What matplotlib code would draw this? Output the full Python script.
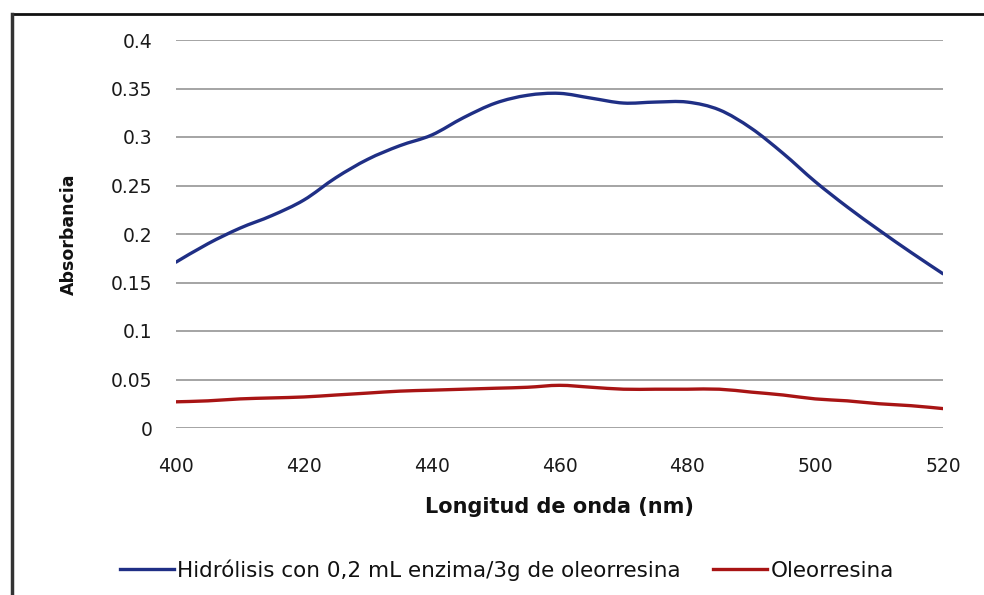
import matplotlib.pyplot as plt
from matplotlib.lines import Line2D
from matplotlib.patches import PathPatch
from matplotlib.path import Path
from matplotlib.ticker import FuncFormatter

# Absorbance spectra, 400-520 nm
wavelength = [400, 405, 410, 415, 420, 425, 430, 435, 440, 445, 450, 455, 460,
              465, 470, 475, 480, 485, 490, 495, 500, 505, 510, 515, 520]
hidrolisis = [0.171, 0.190, 0.206, 0.219, 0.235, 0.258, 0.277, 0.291, 0.302,
              0.320, 0.335, 0.343, 0.345, 0.340, 0.335, 0.336, 0.336, 0.328,
              0.309, 0.283, 0.254, 0.228, 0.204, 0.181, 0.159]
oleorresina = [0.027, 0.028, 0.030, 0.031, 0.032, 0.034, 0.036, 0.038, 0.039,
               0.040, 0.041, 0.042, 0.044, 0.042, 0.040, 0.040, 0.040, 0.040,
               0.037, 0.034, 0.030, 0.028, 0.025, 0.023, 0.020]

series_labels = ['Hidrólisis con 0,2 mL enzima/3g de oleorresina', 'Oleorresina']
y_ticks = [0, 0.05, 0.1, 0.15, 0.2, 0.25, 0.3, 0.35, 0.4]
x_ticks = [400, 420, 440, 460, 480, 500, 520]

BLUE = '#1f2f85'
RED = '#a81414'
W, H = 984, 595


def smooth_path(xs, ys):
    """Bezier path through every point, spreadsheet-style smoothed line."""
    pts = list(zip(xs, ys))
    n = len(pts)
    verts = [pts[0]]
    codes = [Path.MOVETO]
    for i in range(n - 1):
        p0 = pts[max(i - 1, 0)]
        p1 = pts[i]
        p2 = pts[i + 1]
        p3 = pts[min(i + 2, n - 1)]
        c1 = (p1[0] + (p2[0] - p0[0]) / 6, p1[1] + (p2[1] - p0[1]) / 6)
        c2 = (p2[0] - (p3[0] - p1[0]) / 6, p2[1] - (p3[1] - p1[1]) / 6)
        verts += [c1, c2, p2]
        codes += [Path.CURVE4] * 3
    return Path(verts, codes)


plt.rcParams['font.family'] = ['DejaVu Sans']

fig = plt.figure(figsize=(W / 100, H / 100), dpi=100)
ax = fig.add_axes([176 / W, 1 - 428 / H, (943 - 176) / W, (428 - 40) / H])

for ys, col in [(hidrolisis, BLUE), (oleorresina, RED)]:
    ax.add_patch(PathPatch(smooth_path(wavelength, ys), fill=False,
                           edgecolor=col, lw=2.4, capstyle='round',
                           joinstyle='round'))

ax.set_xlim(400, 520)
ax.set_ylim(0, 0.4)
ax.set_xticks(x_ticks)
ax.set_yticks(y_ticks)
ax.yaxis.set_major_formatter(FuncFormatter(lambda v, p: f'{v:g}'))
ax.tick_params(axis='both', length=0, labelsize=13.5, colors='#1a1a1a')
ax.tick_params(axis='y', pad=17)
ax.tick_params(axis='x', pad=21)
ax.grid(axis='y', color='#a4a4a4', lw=1.4)
ax.set_axisbelow(True)
for side in ['top', 'right', 'left', 'bottom']:
    ax.spines[side].set_visible(False)

ax.set_xlabel('Longitud de onda (nm)', fontsize=15, fontweight='bold',
              labelpad=15, color='#111111')
ax.set_ylabel('Absorbancia', fontsize=12.5, fontweight='bold', labelpad=24,
              color='#111111')

handles = [Line2D([], [], color=BLUE, lw=2.4), Line2D([], [], color=RED, lw=2.4)]
fig.legend(handles, series_labels, loc='center',
           bbox_to_anchor=(507 / W, 1 - 570 / H), ncol=2, frameon=False,
           fontsize=15.5, handlelength=2.5, handletextpad=0.15,
           columnspacing=1.5, labelcolor='#111111')

# outer frame (top and left edges)
fig.add_artist(Line2D([12 / W, 1], [1 - 14 / H, 1 - 14 / H], color='#111111', lw=2))
fig.add_artist(Line2D([12 / W, 12 / W], [0, 1 - 14 / H], color='#333333', lw=2.5))

fig.savefig('out.png', dpi=100)
